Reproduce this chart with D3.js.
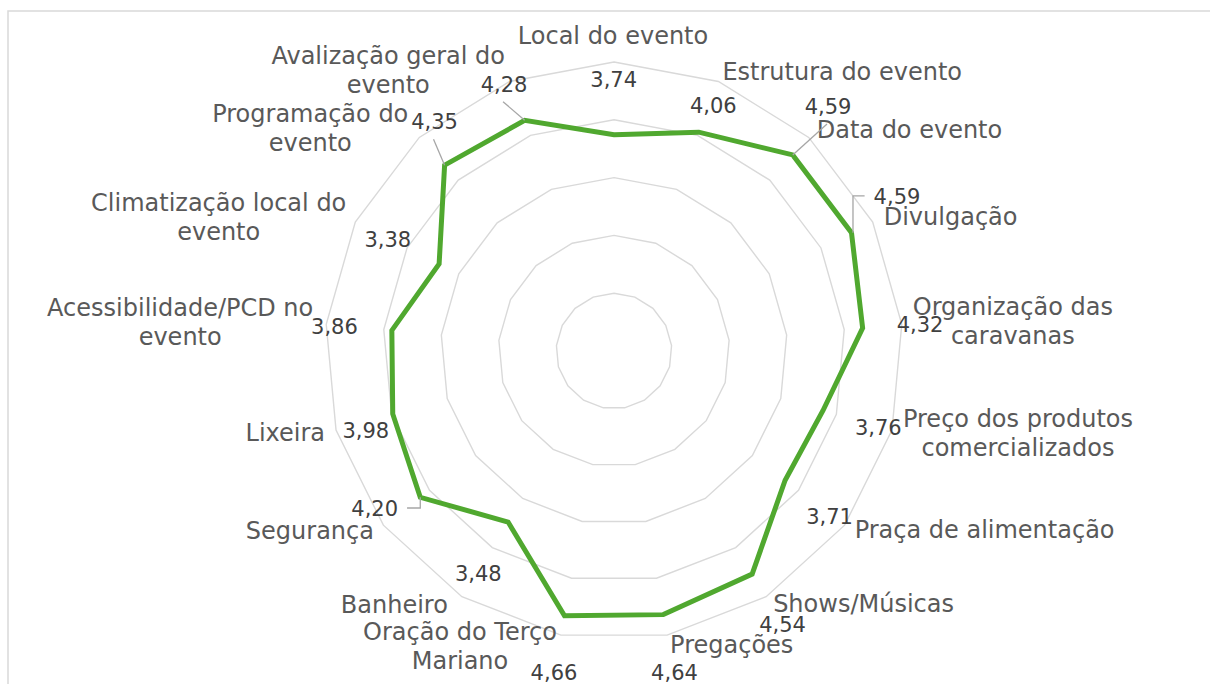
<!DOCTYPE html>
<html><head><meta charset="utf-8">
<script src="https://cdn.jsdelivr.net/npm/d3@7"></script>
<style>
body{margin:0;background:#fff}
svg{display:block}
text{font-family:"DejaVu Sans",sans-serif}
</style>
</head><body>
<svg id="chart" width="1210" height="684"></svg>
<script>
// ---- data ----
const categories = [
  "Local do evento",
  "Estrutura do evento",
  "Data do evento",
  "Divulgação",
  "Organização das caravanas",
  "Preço dos produtos comercializados",
  "Praça de alimentação",
  "Shows/Músicas",
  "Pregações",
  "Oração do Terço Mariano",
  "Banheiro",
  "Segurança",
  "Lixeira",
  "Acessibilidade/PCD no evento",
  "Climatização local do evento",
  "Programação do evento",
  "Avalização geral do evento"
];
const values = [3.74, 4.06, 4.59, 4.59, 4.32, 3.76, 3.71, 4.54, 4.64, 4.66, 3.48, 4.20, 3.98, 3.86, 3.38, 4.35, 4.28];
const ringTicks = [1, 2, 3, 4, 5];
const axisMax = 5;

// ---- layout (presentation only) ----
// category label: [block alignment, dx from outer vertex, dy to first baseline, words on first line (0 = single line)]
const catLayout = [
  ["middle", -1, -18, 0],
  ["start", 4, -1.5, 0],
  ["start", 8, 0.3, 0],
  ["start", 11, 3, 0],
  ["start", 11, -9, 2],
  ["start", 11, -3.4, 3],
  ["start", 10, 13, 0],
  ["start", 7, 15, 0],
  ["start", 3, 18, 0],
  ["end", -4, 5, 3],
  ["end", -14, 16, 0],
  ["end", -9.4, 13.8, 0],
  ["end", -11, 10.6, 0],
  ["end", -13, -8.3, 2],
  ["end", -9, -11.2, 3],
  ["end", -11, -15.7, 2],
  ["end", -4.6, -17.2, 3]
];
// value label: [dx of centre from point, dy of baseline from point, leader type]
const valLayout = [
  [-0.3, -47.5, null],
  [14.5, -18.9, null],
  [35.3, -40.9, "bottom"],
  [45.5, -28.8, "left"],
  [57.4, 3.7, null],
  [55.3, 24.5, null],
  [44.4, 43.8, null],
  [30.4, 57.6, null],
  [11.2, 65.4, null],
  [-10.5, 64.3, null],
  [-29.8, 58.7, null],
  [-45.6, 18.7, "right"],
  [-26.9, 24.3, null],
  [-57.4, 3.6, null],
  [-51.3, -16.6, null],
  [-10.1, -35.9, "bottom"],
  [-20.6, -28.6, "bottom"]
];

const cx = 614, cy = 351, R = 289;
const svg = d3.select("#chart");

// frame
svg.append("rect").attr("x", 8).attr("y", 11).attr("width", 1220).attr("height", 700)
  .attr("fill", "none").attr("stroke", "#d9d9d9").attr("stroke-width", 1.5);

const n = categories.length;
const angle = d3.scaleLinear().domain([0, n]).range([0, 2 * Math.PI]);
const r = d3.scaleLinear().domain([0, axisMax]).range([0, R]);
const pt = (i, v) => [cx + r(v) * Math.sin(angle(i)), cy - r(v) * Math.cos(angle(i))];

const g = svg.append("g");

// grid rings
const lineClosed = d3.line().curve(d3.curveLinearClosed);
g.selectAll("path.ring").data(ringTicks).join("path")
  .attr("class", "ring")
  .attr("d", t => lineClosed(d3.range(n).map(i => pt(i, t))))
  .attr("fill", "none").attr("stroke", "#d9d9d9").attr("stroke-width", 1.4);

// series line
g.append("path")
  .attr("d", lineClosed(values.map((v, i) => pt(i, v))))
  .attr("fill", "none").attr("stroke", "#50A82F").attr("stroke-width", 5)
  .attr("stroke-linejoin", "miter");

// category labels
const catG = svg.append("g");
categories.forEach((name, i) => {
  const [align, dx, dy, brk] = catLayout[i];
  const words = name.split(" ");
  const lines = brk ? [words.slice(0, brk).join(" "), words.slice(brk).join(" ")] : [name];
  const [vx, vy] = pt(i, axisMax);
  const t = catG.append("text")
    .attr("text-anchor", "middle")
    .attr("fill", "#595959")
    .attr("font-size", 24);
  lines.forEach((l, k) => {
    t.append("tspan").attr("x", 0).attr("y", k * 29).text(l);
  });
  const w = t.node().getBBox().width;
  let x = vx + dx;
  if (align === "start") x += w / 2;
  else if (align === "end") x -= w / 2;
  t.attr("transform", `translate(${x},${vy + dy})`);
});

// value labels + leaders
const fmt = v => d3.format(".2f")(v).replace(".", ",");
const valG = svg.append("g");
values.forEach((v, i) => {
  const [dx, dy, leader] = valLayout[i];
  const [px, py] = pt(i, v);
  const lx = px + dx, ly = py + dy;
  const t = valG.append("text")
    .attr("x", lx).attr("y", ly)
    .attr("text-anchor", "middle")
    .attr("fill", "#404040")
    .attr("font-size", 21)
    .text(fmt(v));
  if (leader) {
    const bb = t.node().getBBox();
    let pts;
    if (leader === "bottom") {
      pts = [[px, py], [lx - 1, ly + 10]];
    } else if (leader === "left") {
      const ey = ly - 8;
      pts = [[px + 1.5, py], [px + 1.5, ey], [bb.x - 9, ey]];
    } else {
      const ey = ly - 8;
      pts = [[px, py], [px, ey], [bb.x + bb.width + 9, ey]];
    }
    valG.insert("path", "text")
      .attr("d", d3.line()(pts))
      .attr("fill", "none").attr("stroke", "#a6a6a6").attr("stroke-width", 1.3);
  }
});
</script>
</body></html>
